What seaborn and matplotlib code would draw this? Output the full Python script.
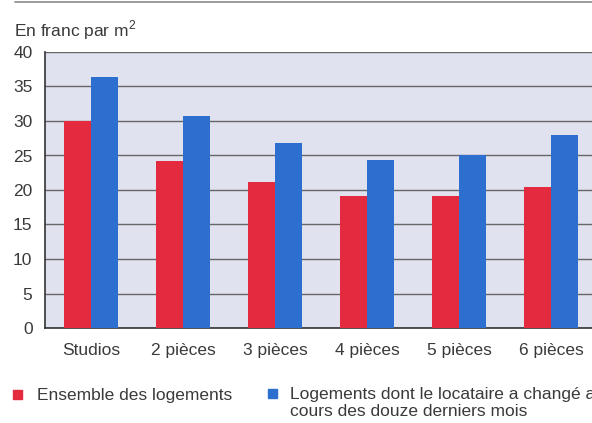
import matplotlib
matplotlib.use("Agg")
import matplotlib.pyplot as plt
import seaborn as sns
import pandas as pd
from matplotlib.patches import Rectangle
from matplotlib.lines import Line2D

categories = ["Studios", "2 pièces", "3 pièces", "4 pièces", "5 pièces", "6 pièces"]
ensemble = [30.0, 24.2, 21.2, 19.1, 19.1, 20.4]
changes = [36.4, 30.7, 26.8, 24.3, 25.1, 28.0]
series_names = ["Ensemble des logements",
                "Logements dont le locataire a changé au\ncours des douze derniers mois"]
yticks = [0, 5, 10, 15, 20, 25, 30, 35, 40]

red = "#e32a3e"
blue = "#2c6fcf"
bg = "#e0e2f0"
txt = "#3a3a3a"

sns.set_theme(style="white")
plt.rcParams["font.family"] = ["Liberation Sans", "DejaVu Sans"]
plt.rcParams["mathtext.fontset"] = "custom"
plt.rcParams["mathtext.rm"] = "Liberation Sans"

df = pd.DataFrame({
    "cat": categories * 2,
    "val": ensemble + changes,
    "serie": [series_names[0]] * len(categories) + [series_names[1]] * len(categories),
})

fig = plt.figure(figsize=(5.92, 4.23), dpi=100)
W, H = 592, 423
ax = fig.add_axes([45 / W, (H - 328) / H, (597 - 45) / W, (328 - 52) / H])
ax.set_facecolor(bg)

sns.barplot(data=df, x="cat", y="val", hue="serie", palette=[red, blue],
            width=0.58, saturation=1, legend=False, ax=ax, zorder=3,
            edgecolor="none", linewidth=0)

ax.set_ylim(0, 40)
ax.set_xlim(-0.5, 5.5)
ax.set_yticks(yticks)
ax.set_yticklabels([str(t) for t in yticks], fontsize=12.5, color=txt)
ax.set_xticks(range(len(categories)))
ax.set_xticklabels(categories, fontsize=12.5, color=txt)
ax.set_xticks([i + 0.5 for i in range(len(categories) - 1)], minor=True)
ax.tick_params(axis="x", which="major", length=0, pad=11)
ax.tick_params(axis="x", which="minor", length=7, width=1, color="#333333", direction="out")
ax.tick_params(axis="y", length=7, width=1, color="#333333", direction="out", pad=2)
ax.set_xlabel("")
ax.set_ylabel("")
ax.yaxis.grid(True, color="#666666", linewidth=1, zorder=1)
ax.set_axisbelow(True)
for s in ["top", "right"]:
    ax.spines[s].set_visible(False)
for s in ["left", "bottom"]:
    ax.spines[s].set_color("#333333")
    ax.spines[s].set_linewidth(1.2)

fig.text(14 / W, 1 - 30 / H, "En franc par m$^{2}$", fontsize=12.5, color=txt, va="center", ha="left")

fig.add_artist(Line2D([15 / W, 1], [1 - 2 / H, 1 - 2 / H], color="#8a8a8a", linewidth=1.2,
                      transform=fig.transFigure))

fig.add_artist(Rectangle((13 / W, 1 - 399 / H), 9 / W, 9 / H, color=red, transform=fig.transFigure))
fig.text(37 / W, 1 - 395 / H, series_names[0], fontsize=12.5, color=txt, va="center", ha="left")
fig.add_artist(Rectangle((268 / W, 1 - 398 / H), 9 / W, 9 / H, color=blue, transform=fig.transFigure))
fig.text(290 / W, 1 - 387 / H, series_names[1], fontsize=12.5, color=txt, va="top", ha="left",
         linespacing=1.15)

fig.savefig("out.png", dpi=100, facecolor="white")
